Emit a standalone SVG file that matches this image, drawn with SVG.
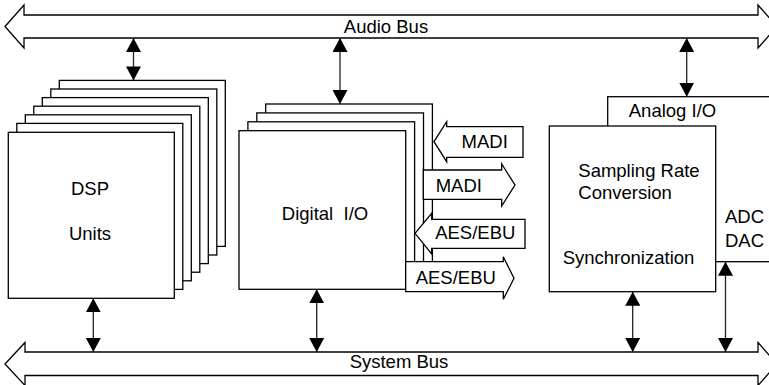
<svg xmlns="http://www.w3.org/2000/svg" width="769" height="385" viewBox="0 0 769 385">
<style>
.box{fill:#fff;stroke:#000;stroke-width:1.3}
.bus{fill:#fff;stroke:#000;stroke-width:1.3}
.sig{fill:#fff;stroke:#000;stroke-width:1.3}
.conn{stroke:#222;stroke-width:1.3;fill:none;marker-start:url(#ah);marker-end:url(#ah)}
text{font-family:"Liberation Sans",Arial,sans-serif;font-size:18.5px;fill:#000}
.c{text-anchor:middle}
</style>
<defs>
<marker id="ah" markerUnits="userSpaceOnUse" viewBox="0 0 14 15" refX="14" refY="7.5" markerWidth="14" markerHeight="15" orient="auto-start-reverse">
<path d="M0,0 L14,7.5 L0,15 z" fill="#000"/>
</marker>
</defs>
<g id="audio-bus">
<polygon class="bus" points="5,26.5 24,5 24,15 758,15 758,5 777,26.5 758,48 758,38 24,38 24,48"/>
<text class="c" x="386" y="33">Audio Bus</text>
</g>
<g id="system-bus">
<polygon class="bus" points="5,364 25,342.5 25,352 758,352 758,342.5 777,364 758,385.5 758,375.5 25,375.5 25,385.5"/>
<text class="c" x="399" y="368">System Bus</text>
</g>
<g id="dsp-units">
<rect class="box" x="59.3" y="80.4" width="166" height="166"/>
<rect class="box" x="50.8" y="89" width="166" height="166"/>
<rect class="box" x="42.3" y="97.6" width="166" height="166"/>
<rect class="box" x="33.8" y="106.2" width="166" height="166"/>
<rect class="box" x="25.3" y="114.8" width="166" height="166"/>
<rect class="box" x="16.8" y="123.4" width="166" height="166"/>
<rect class="box" x="8.3" y="132.3" width="166" height="166"/>
<text class="c" x="90" y="195">DSP</text>
<text class="c" x="90" y="240">Units</text>
</g>
<g id="digital-io">
<rect class="box" x="265.7" y="104" width="166.7" height="158.6"/>
<rect class="box" x="256.8" y="112.9" width="166.7" height="158.6"/>
<rect class="box" x="247.9" y="121.8" width="166.7" height="158.6"/>
<rect class="box" x="239" y="130.7" width="166.7" height="158.6"/>
<text class="c" x="325" y="220" xml:space="preserve">Digital  I/O</text>
</g>
<g id="madi-in">
<polygon class="sig" points="434,141.7 446.7,121.7 446.7,126.7 523,126.7 523,157.3 446.7,157.3 446.7,161.7"/>
<text class="c" x="484.7" y="148.3">MADI</text>
</g>
<g id="madi-out">
<polygon class="sig" points="423.3,170 501.7,170 501.7,164 515,185 501.7,206 501.7,199.3 423.3,199.3"/>
<text class="c" x="458.8" y="192.3">MADI</text>
</g>
<g id="aes-in">
<polygon class="sig" points="415,233.3 431.7,213.3 431.7,219.3 525,219.3 525,248.3 431.7,248.3 431.7,254"/>
<text class="c" x="475.3" y="239.3">AES/EBU</text>
</g>
<g id="aes-out">
<polygon class="sig" points="405.7,261.7 503.3,261.7 503.3,256.7 514,278.3 503.3,299.3 503.3,291.7 405.7,291.7"/>
<text class="c" x="455.8" y="284">AES/EBU</text>
</g>
<g id="analog-io">
<rect class="box" x="607.7" y="96.7" width="200" height="165"/>
<text class="c" x="672.5" y="117.3">Analog I/O</text>
<text x="725" y="223.3">ADC</text>
<text x="725" y="247.3">DAC</text>
</g>
<g id="src-sync">
<rect class="box" x="549.3" y="126" width="166.4" height="165.7"/>
<text x="578.3" y="176.7">Sampling Rate</text>
<text x="578.3" y="199.3">Conversion</text>
<text x="562.7" y="264">Synchronization</text>
</g>
<g id="connectors">
<line class="conn" x1="133.5" y1="38" x2="133.5" y2="80.4"/>
<line class="conn" x1="340" y1="38" x2="340" y2="104"/>
<line class="conn" x1="686.7" y1="38" x2="686.7" y2="96.7"/>
<line class="conn" x1="93.3" y1="298.3" x2="93.3" y2="352"/>
<line class="conn" x1="316.7" y1="289.3" x2="316.7" y2="352"/>
<line class="conn" x1="632.7" y1="291.7" x2="632.7" y2="352"/>
<line class="conn" x1="725.5" y1="261.7" x2="725.5" y2="352"/>
</g>
</svg>
